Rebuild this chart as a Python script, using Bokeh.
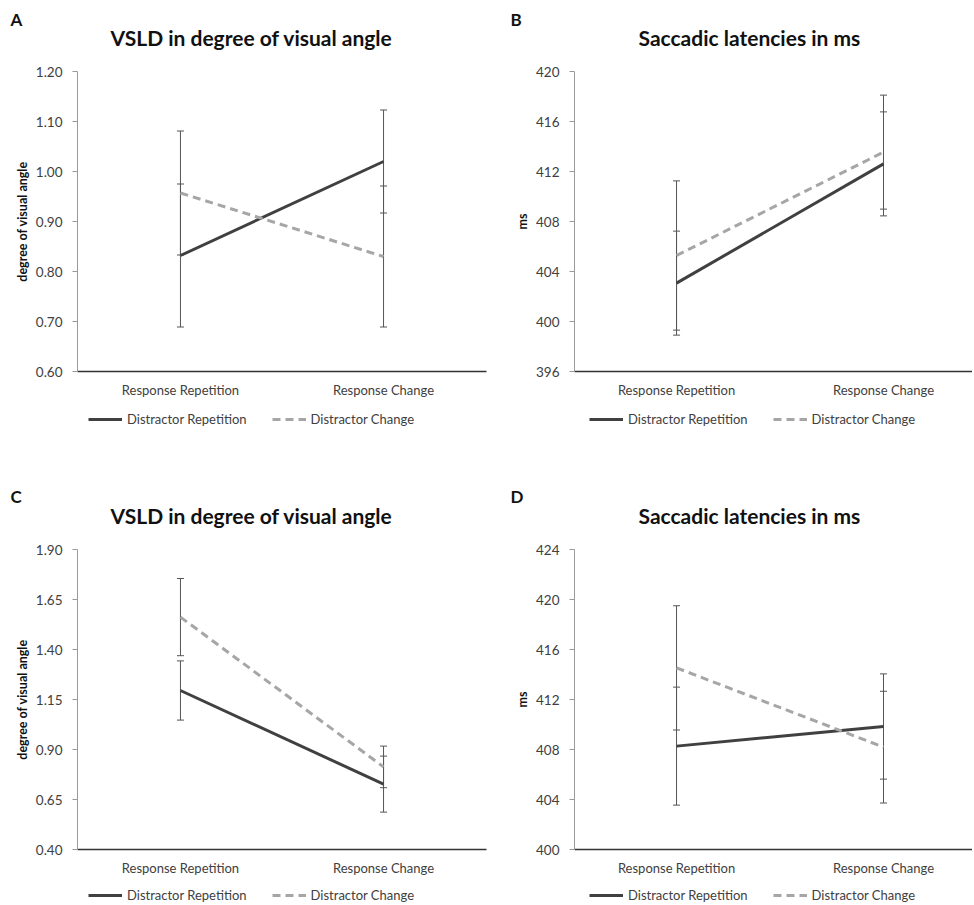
from bokeh.plotting import figure
from bokeh.layouts import gridplot
from bokeh.models import (Range1d, FixedTicker, Title, Legend, LegendItem,
                          Whisker, TeeHead, ColumnDataSource)
from bokeh.embed import file_html
from bokeh.resources import INLINE

# ---------------- data ----------------
categories = ["Response Repetition", "Response Change"]
series_names = ["Distractor Repetition", "Distractor Change"]

vsld_title = "VSLD in degree of visual angle"
vsld_ylabel = "degree of visual angle"
lat_title = "Saccadic latencies in ms"
lat_ylabel = "ms"

# Panel A
a_ticks = [0.60, 0.70, 0.80, 0.90, 1.00, 1.10, 1.20]
a_tick_labels = ["0.60", "0.70", "0.80", "0.90", "1.00", "1.10", "1.20"]
a_dist_rep = [0.832, 1.020]
a_dist_rep_err = [0.143, 0.103]
a_dist_chg = [0.957, 0.830]
a_dist_chg_err = [0.124, 0.141]

# Panel B
b_ticks = [396, 400, 404, 408, 412, 416, 420]
b_tick_labels = ["396", "400", "404", "408", "412", "416", "420"]
b_dist_rep = [403.07, 412.61]
b_dist_rep_err = [4.16, 4.16]
b_dist_chg = [405.28, 413.55]
b_dist_chg_err = [5.97, 4.56]

# Panel C
c_ticks = [0.40, 0.65, 0.90, 1.15, 1.40, 1.65, 1.90]
c_tick_labels = ["0.40", "0.65", "0.90", "1.15", "1.40", "1.65", "1.90"]
c_dist_rep = [1.195, 0.727]
c_dist_rep_err = [0.148, 0.140]
c_dist_chg = [1.562, 0.813]
c_dist_chg_err = [0.193, 0.104]

# Panel D
d_ticks = [400, 404, 408, 412, 416, 420, 424]
d_tick_labels = ["400", "404", "408", "412", "416", "420", "424"]
d_dist_rep = [408.27, 409.84]
d_dist_rep_err = [4.72, 4.21]
d_dist_chg = [414.53, 408.19]
d_dist_chg_err = [4.97, 4.47]

# ---------------- styling ----------------
FONT = "Lato"
DARK = "#404040"
LIGHT = "#a6a6a6"
BAR = "#555555"
LABEL_GRAY = "#404040"
SOLID_STYLE = dict(line_color=DARK, line_width=3)
DASH_STYLE = dict(line_color=LIGHT, line_width=3, line_dash="8 5")


def make_panel(letter, title, ylabel, ticks, tick_labels, rep, rep_err, chg, chg_err,
               width, height, top, right, x_start, x_end,
               spacer, title_off, letter_off, letter_standoff):
    xs = list(range(len(categories)))
    p = figure(width=width, height=height, output_backend="svg", toolbar_location=None,
               x_range=Range1d(x_start, x_end), y_range=Range1d(ticks[0], ticks[-1]),
               min_border_left=77, min_border_right=right, min_border_top=top,
               min_border_bottom=30, title=None)
    p.xgrid.visible = False
    p.ygrid.visible = False
    p.outline_line_color = None
    p.background_fill_color = "white"
    p.border_fill_color = "white"

    # y axis
    yax = p.yaxis[0]
    yax.ticker = FixedTicker(ticks=ticks)
    yax.major_label_overrides = {t: l for t, l in zip(ticks, tick_labels)}
    yax.axis_line_color = "#9a9a9a"
    yax.major_tick_line_color = "#9a9a9a"
    yax.major_tick_out = 5
    yax.major_tick_in = 0
    yax.minor_tick_out = 0
    yax.minor_tick_in = 0
    yax.major_label_standoff = 10
    yax.major_label_text_font = FONT
    yax.major_label_text_font_size = "13.5px"
    yax.major_label_text_color = LABEL_GRAY
    yax.axis_label = ylabel
    yax.axis_label_text_font = FONT
    yax.axis_label_text_font_size = "12.5px"
    yax.axis_label_text_font_style = "bold"
    yax.axis_label_text_color = "#111111"
    yax.axis_label_standoff = 3

    # x axis
    xax = p.xaxis[0]
    xax.ticker = FixedTicker(ticks=xs)
    xax.major_label_overrides = {x: c for x, c in zip(xs, categories)}
    xax.axis_line_color = "#333333"
    xax.axis_line_width = 1.5
    xax.major_tick_out = 0
    xax.major_tick_in = 0
    xax.minor_tick_out = 0
    xax.minor_tick_in = 0
    xax.major_label_standoff = 10
    xax.major_label_text_font = FONT
    xax.major_label_text_font_size = "13px"
    xax.major_label_text_color = LABEL_GRAY

    # lines
    p.line(xs, rep, **SOLID_STYLE)
    p.line(xs, chg, **DASH_STYLE)

    # error bars
    for vals, errs in ((rep, rep_err), (chg, chg_err)):
        src = ColumnDataSource(dict(base=xs,
                                    lower=[v - e for v, e in zip(vals, errs)],
                                    upper=[v + e for v, e in zip(vals, errs)]))
        w = Whisker(base="base", lower="lower", upper="upper", source=src,
                    dimension="height", line_color=BAR, line_width=1,
                    upper_head=TeeHead(size=7, line_color=BAR, line_width=1),
                    lower_head=TeeHead(size=7, line_color=BAR, line_width=1))
        p.add_layout(w)

    # titles, stacked outward from the frame: spacer, main title, panel letter
    p.add_layout(Title(text=" ", text_font_size="1px", standoff=spacer), "above")
    p.add_layout(Title(text=title, align="left", offset=title_off, standoff=0,
                       vertical_align="bottom", text_font=FONT, text_font_size="21px",
                       text_font_style="bold", text_color="#111111"), "above")
    p.add_layout(Title(text=letter, align="left", offset=letter_off, standoff=letter_standoff,
                       vertical_align="bottom", text_font=FONT, text_font_size="17px",
                       text_font_style="bold", text_color="#111111"), "above")
    return p


def make_legend(width, height, rep, chg, glyph_x, box_top):
    # a strip under each panel that only carries the series legend
    xs = list(range(len(categories)))
    lf = figure(width=width, height=height, output_backend="svg", toolbar_location=None,
                x_axis_type=None, y_axis_type=None,
                x_range=Range1d(10, 11), y_range=Range1d(10, 11),
                min_border=0, min_border_left=0, min_border_right=0,
                min_border_top=0, min_border_bottom=0, title=None)
    lf.xgrid.visible = False
    lf.ygrid.visible = False
    lf.outline_line_color = None
    lf.border_fill_color = "white"
    r1 = lf.line(xs, rep, **SOLID_STYLE)
    r2 = lf.line(xs, chg, **DASH_STYLE)
    leg = Legend(items=[LegendItem(label=series_names[0], renderers=[r1]),
                        LegendItem(label=series_names[1], renderers=[r2])],
                 orientation="horizontal", location=(glyph_x, height - box_top - 16),
                 margin=0, padding=0, spacing=25,
                 glyph_width=34, glyph_height=16, label_height=16, label_standoff=5,
                 border_line_color=None, background_fill_alpha=0,
                 label_text_font=FONT, label_text_font_size="13px",
                 label_text_color=LABEL_GRAY)
    lf.add_layout(leg, "center")
    return lf


pA = make_panel("A", vsld_title, vsld_ylabel, a_ticks, a_tick_labels,
                a_dist_rep, a_dist_rep_err, a_dist_chg, a_dist_chg_err,
                width=497, height=401, top=71, right=11,
                x_start=-0.507, x_end=1.507,
                spacer=19, title_off=33, letter_off=-67, letter_standoff=-14)
pB = make_panel("B", lat_title, lat_ylabel, b_ticks, b_tick_labels,
                b_dist_rep, b_dist_rep_err, b_dist_chg, b_dist_chg_err,
                width=475, height=401, top=71, right=0,
                x_start=-0.493, x_end=1.430,
                spacer=19, title_off=64, letter_off=-64, letter_standoff=-14)
lA = make_legend(497, 76, a_dist_rep, a_dist_chg, glyph_x=11, box_top=10)
lB = make_legend(475, 76, b_dist_rep, b_dist_chg, glyph_x=15, box_top=10)

pC = make_panel("C", vsld_title, vsld_ylabel, c_ticks, c_tick_labels,
                c_dist_rep, c_dist_rep_err, c_dist_chg, c_dist_chg_err,
                width=497, height=402, top=72, right=11,
                x_start=-0.507, x_end=1.507,
                spacer=19, title_off=33, letter_off=-67, letter_standoff=-12)
pD = make_panel("D", lat_title, lat_ylabel, d_ticks, d_tick_labels,
                d_dist_rep, d_dist_rep_err, d_dist_chg, d_dist_chg_err,
                width=475, height=402, top=72, right=0,
                x_start=-0.493, x_end=1.430,
                spacer=19, title_off=64, letter_off=-64, letter_standoff=-12)
lC = make_legend(497, 24, c_dist_rep, c_dist_chg, glyph_x=11, box_top=8)
lD = make_legend(475, 24, d_dist_rep, d_dist_chg, glyph_x=15, box_top=8)

grid = gridplot([[pA, pB], [lA, lB], [pC, pD], [lC, lD]], toolbar_location=None)

with open("out.html", "w") as f:
    f.write(file_html(grid, INLINE))
